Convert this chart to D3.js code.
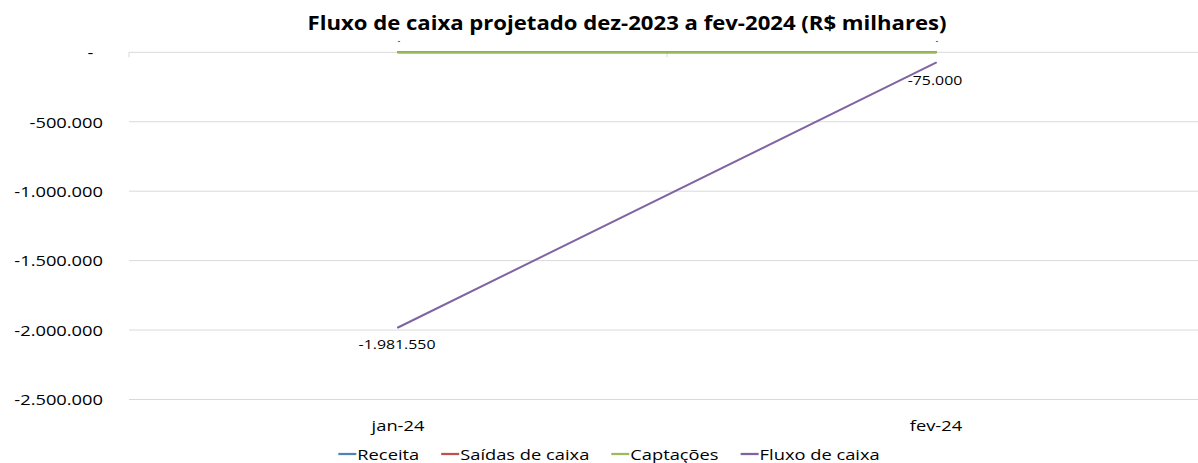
<!DOCTYPE html>
<html>
<head>
<meta charset="utf-8">
<script src="https://cdn.jsdelivr.net/npm/d3@7"></script>
<style>
  html, body { margin: 0; padding: 0; background: #fff; }
  svg { display: block; }
  text { font-family: "Open Sans", sans-serif; fill: #000; }
</style>
</head>
<body>
<svg id="chart" width="1198" height="463"></svg>
<script>
const chartTitle = "Fluxo de caixa projetado dez-2023 a fev-2024 (R$ milhares)";
const categories = ["jan-24", "fev-24"];
const seriesNames = ["Receita", "Saídas de caixa", "Captações", "Fluxo de caixa"];
const receita = [0, 0];
const saidas = [0, 0];
const captacoes = [0, 0];
const fluxo = [-1981550, -75000];
const yTicks = [0, -500000, -1000000, -1500000, -2000000, -2500000];

const colors = ["#4F81BD", "#C0504D", "#9BBB59", "#8064A2"];
const seriesData = [receita, saidas, captacoes, fluxo];

const svg = d3.select("#chart");
const SX = 1.22; // horizontal stretch of the reference text

const plot = { left: 129, right: 1205, top: 52.3, bottom: 399.5 };

const locale = d3.formatLocale({ decimal: ",", thousands: ".", grouping: [3], currency: ["R$", ""], minus: "-" });
const fmtNum = locale.format(",.0f");
const fmt = v => v === 0 ? "-" : fmtNum(v);

const x = d3.scaleBand().domain(categories).range([plot.left, plot.right]).paddingInner(0).paddingOuter(0);
const cx = c => x(c) + x.bandwidth() / 2;
const y = d3.scaleLinear().domain([-2500000, 0]).range([plot.bottom, plot.top]);

function stretchedText(g, tx, ty, str, opts) {
  return g.append("text")
    .attr("transform", `translate(${tx},${ty}) scale(${opts.sx || SX},1)`)
    .attr("text-anchor", opts.anchor || "middle")
    .attr("dominant-baseline", "central")
    .style("font-size", opts.size + "px")
    .style("font-weight", opts.weight || "normal")
    .text(str);
}

// gridlines
const grid = svg.append("g");
grid.selectAll("line").data(yTicks).join("line")
  .attr("x1", plot.left).attr("x2", plot.right)
  .attr("y1", d => y(d)).attr("y2", d => y(d))
  .attr("stroke", "#D9D9D9").attr("stroke-width", 1);

// category axis at zero with tick marks at band boundaries
const bounds = [plot.left, ...categories.slice(1).map(c => x(c)), plot.right];
grid.selectAll("line.tick").data(bounds).join("line").attr("class", "tick")
  .attr("x1", d => d).attr("x2", d => d)
  .attr("y1", y(0)).attr("y2", y(0) + 5)
  .attr("stroke", "#D9D9D9").attr("stroke-width", 1);

// y labels
const yl = svg.append("g");
yTicks.forEach(v => {
  const s = v === 0 ? "-\u00A0\u00A0" : fmt(v);
  stretchedText(yl, 103, y(v), s, { size: 15, anchor: "end" });
});

// x labels
const xl = svg.append("g");
categories.forEach(c => stretchedText(xl, cx(c), 425, c, { size: 15 }));

// lines
const line = d3.line().x((d, i) => cx(categories[i])).y(d => y(d));
const lines = svg.append("g");
seriesData.forEach((s, k) => {
  lines.append("path").datum(s)
    .attr("d", line)
    .attr("fill", "none")
    .attr("stroke", colors[k])
    .attr("stroke-width", 2)
    .attr("stroke-linecap", "round");
});

// data labels
const dl = svg.append("g");
captacoes.forEach((v, i) => stretchedText(dl, cx(categories[i]) + 1, y(v) - 11.5, fmt(v), { size: 6, weight: "bold" }));
fluxo.forEach((v, i) => stretchedText(dl, cx(categories[i]) - 1, y(v) + 17, fmt(v), { size: 13 }));

// title
stretchedText(svg, 627, 23, chartTitle, { size: 19, weight: "bold", sx: 1.165 });

// legend
const lg = svg.append("g");
const legendY = 454;
const itemGap = 22, swatch = 18;
const items = [];
seriesNames.forEach((n, k) => {
  const gi = lg.append("g");
  gi.append("line").attr("x1", 0).attr("x2", swatch).attr("y1", 0).attr("y2", 0)
    .attr("stroke", colors[k]).attr("stroke-width", 2.25);
  const t = stretchedText(gi, swatch + 1, 0, n, { size: 15, anchor: "start" });
  items.push({ g: gi, w: swatch + 1 + t.node().getBBox().width * SX });
});
const total = d3.sum(items, d => d.w) + itemGap * (items.length - 1);
let lx = 609 - total / 2;
items.forEach(it => { it.g.attr("transform", `translate(${lx},${legendY})`); lx += it.w + itemGap; });
</script>
</body>
</html>
